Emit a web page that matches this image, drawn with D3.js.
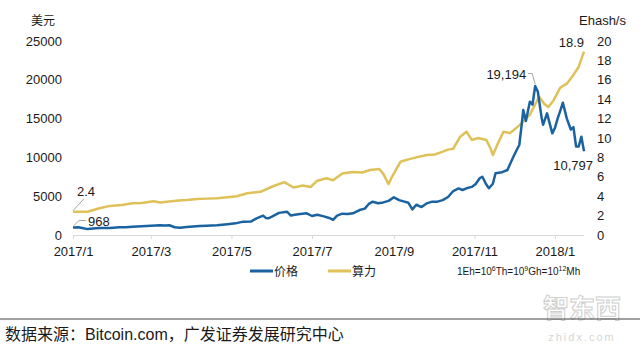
<!DOCTYPE html>
<html>
<head>
<meta charset="utf-8">
<script src="https://cdn.jsdelivr.net/npm/d3@7/dist/d3.min.js"></script>
<style>
  html, body { margin: 0; padding: 0; background: #ffffff; }
  svg { display: block; }
  text { font-family: "Liberation Sans", Arial, sans-serif; }
  .cjk { font-family: "Noto Sans CJK SC", sans-serif; }
</style>
</head>
<body>
<svg id="chart" width="640" height="350"></svg>
<script>
// Bitcoin price (USD) — left axis
const priceDates = [
  "2017-01-01","2017-01-05","2017-01-08","2017-01-12","2017-01-16","2017-01-21","2017-01-29",
  "2017-02-05","2017-02-10","2017-02-15","2017-02-22","2017-03-01","2017-03-08","2017-03-12",
  "2017-03-15","2017-03-19","2017-03-23","2017-03-28","2017-04-02","2017-04-07","2017-04-12",
  "2017-04-20","2017-04-28","2017-05-04","2017-05-10","2017-05-16","2017-05-20","2017-05-25",
  "2017-05-27","2017-05-29","2017-06-01","2017-06-06","2017-06-12","2017-06-15","2017-06-18",
  "2017-06-22","2017-06-27","2017-07-01","2017-07-05","2017-07-10","2017-07-14","2017-07-17",
  "2017-07-20","2017-07-24","2017-07-28","2017-08-01","2017-08-06","2017-08-10","2017-08-13",
  "2017-08-16","2017-08-20","2017-08-24","2017-08-28","2017-09-01","2017-09-05","2017-09-09",
  "2017-09-12","2017-09-15","2017-09-18","2017-09-22","2017-09-26","2017-09-30","2017-10-04",
  "2017-10-08","2017-10-12","2017-10-16","2017-10-20","2017-10-23","2017-10-26","2017-10-30",
  "2017-11-02","2017-11-05","2017-11-07","2017-11-10","2017-11-12","2017-11-15","2017-11-17",
  "2017-11-22","2017-11-26","2017-11-30","2017-12-03","2017-12-05","2017-12-07","2017-12-08",
  "2017-12-10","2017-12-13","2017-12-15","2017-12-17","2017-12-19","2017-12-22","2017-12-23",
  "2017-12-26","2017-12-30","2018-01-01","2018-01-03","2018-01-05","2018-01-07","2018-01-10",
  "2018-01-13","2018-01-15","2018-01-17","2018-01-19","2018-01-21","2018-01-23"
];
const priceValues = [
  968, 1010, 900, 760, 830, 890, 910,
  1010, 990, 1060, 1120, 1200, 1250, 1230,
  1260, 1000, 940, 1030, 1090, 1160, 1190,
  1250, 1380, 1500, 1720, 1750, 2150, 2500,
  2200, 2150, 2400, 2850, 3000, 2500, 2600,
  2700, 2800, 2450, 2620, 2400, 2200, 1950,
  2500, 2750, 2700, 2800, 3220, 3400, 4000,
  4290, 4100, 4200, 4400, 4860, 4500, 4300,
  4150, 3300, 3900, 3600, 4080, 4300, 4300,
  4500, 4900, 5670, 6000, 5800, 6020, 6200,
  6570, 7310, 7510, 6500, 6020, 6600, 7950,
  8100, 8380, 9880, 10950, 11600, 14500, 16100,
  14700, 17180, 16800, 19194, 18500, 15000, 14200,
  15680, 13100, 13800, 15000, 16000, 17050, 15000,
  13600, 13900, 11400, 11400, 12670, 10797
];

// Network hash rate (Ehash/s) — right axis
const hashDates = [
  "2017-01-01","2017-01-12","2017-01-21","2017-01-29","2017-02-07","2017-02-15","2017-02-22",
  "2017-03-03","2017-03-08","2017-03-15","2017-03-22","2017-03-28","2017-04-05","2017-04-12",
  "2017-04-20","2017-04-28","2017-05-05","2017-05-13","2017-05-23","2017-06-01","2017-06-10",
  "2017-06-17","2017-06-24","2017-06-30","2017-07-05","2017-07-12","2017-07-17","2017-07-24",
  "2017-08-01","2017-08-08","2017-08-14","2017-08-21","2017-08-24","2017-08-28","2017-08-31",
  "2017-09-06","2017-09-12","2017-09-18","2017-09-26","2017-10-02","2017-10-06","2017-10-12",
  "2017-10-16","2017-10-21","2017-10-26","2017-10-30","2017-11-04","2017-11-10","2017-11-13",
  "2017-11-15","2017-11-19","2017-11-23","2017-11-28","2017-12-05","2017-12-13","2017-12-20",
  "2017-12-24","2017-12-27","2017-12-31","2018-01-05","2018-01-10","2018-01-15","2018-01-19",
  "2018-01-23"
];
const hashValues = [
  2.4, 2.4, 2.75, 3.0, 3.1, 3.27, 3.3,
  3.47, 3.35, 3.45, 3.55, 3.6, 3.7, 3.75,
  3.8, 3.9, 4.0, 4.3, 4.45, 5.0, 5.45,
  4.9, 5.1, 4.95, 5.6, 5.85, 5.65, 6.35,
  6.5, 6.45, 6.7, 6.8, 6.3, 5.25, 6.1,
  7.55, 7.8, 8.0, 8.25, 8.3, 8.5, 8.8,
  8.9, 10.1, 10.65, 9.8, 10.0, 9.8, 9.0,
  8.25, 9.5, 10.65, 10.5, 11.3, 12.4, 14.25,
  13.5, 13.2, 13.9, 15.2, 15.6, 16.5, 17.35,
  18.9
];

const xTickDates = ["2017-01-01","2017-03-01","2017-05-01","2017-07-01","2017-09-01","2017-11-01","2018-01-01"];
const leftTicks = [0, 5000, 10000, 15000, 20000, 25000];
const rightTicks = [0, 2, 4, 6, 8, 10, 12, 14, 16, 18, 20];

const priceColor = "#1b62a0";
const hashColor = "#dfc158";
const textColor = "#1a1a1a";

const parse = d3.timeParse("%Y-%m-%d");
const price = priceDates.map((d, i) => ({ date: parse(d), value: priceValues[i] }));
const hash = hashDates.map((d, i) => ({ date: parse(d), value: hashValues[i] }));

const svg = d3.select("#chart");

const x = d3.scaleTime()
  .domain([parse("2017-01-01"), parse("2018-01-23")])
  .range([73, 584]);
const yL = d3.scaleLinear().domain([0, 25000]).range([235, 41]);
const yR = d3.scaleLinear().domain([0, 20]).range([235, 41]);

// x axis
const xAxis = svg.append("g")
  .attr("transform", "translate(0,235)")
  .call(d3.axisBottom(x)
    .tickValues(xTickDates.map(parse))
    .tickFormat(d3.timeFormat("%Y/%-m"))
    .tickSizeInner(4).tickSizeOuter(0).tickPadding(8));
xAxis.select(".domain").attr("stroke", "#d9d9d9").attr("d", "M73,0.5H584");
xAxis.selectAll(".tick line").attr("stroke", "#d9d9d9");
xAxis.selectAll(".tick text").attr("font-size", 13).attr("fill", textColor)
  .attr("font-family", "'Liberation Sans', Arial, sans-serif");

// left axis
const leftAxis = svg.append("g")
  .attr("transform", "translate(62,0)")
  .call(d3.axisLeft(yL).tickValues(leftTicks).tickFormat(d3.format("d")).tickSize(0).tickPadding(0));
leftAxis.select(".domain").remove();
leftAxis.selectAll(".tick text").attr("font-size", 13).attr("fill", textColor)
  .attr("font-family", "'Liberation Sans', Arial, sans-serif");

// right axis
const rightAxis = svg.append("g")
  .attr("transform", "translate(597,0)")
  .call(d3.axisRight(yR).tickValues(rightTicks).tickSize(0).tickPadding(0));
rightAxis.select(".domain").remove();
rightAxis.selectAll(".tick text").attr("font-size", 13).attr("fill", textColor)
  .attr("font-family", "'Liberation Sans', Arial, sans-serif");

// axis units
svg.append("text").attr("class", "cjk").attr("x", 31).attr("y", 25)
  .attr("font-size", 12).attr("fill", textColor).text("美元");
svg.append("text").attr("x", 579).attr("y", 25)
  .attr("font-size", 13).attr("fill", textColor).text("Ehash/s");

// series
const lineP = d3.line().x(d => x(d.date)).y(d => yL(d.value));
const lineH = d3.line().x(d => x(d.date)).y(d => yR(d.value));

svg.append("path").datum(hash)
  .attr("fill", "none").attr("stroke", hashColor).attr("stroke-width", 2.5)
  .attr("stroke-linejoin", "round").attr("d", lineH);
svg.append("path").datum(price)
  .attr("fill", "none").attr("stroke", priceColor).attr("stroke-width", 2.5)
  .attr("stroke-linejoin", "round").attr("d", lineP);

// value callouts
const leader = "#a6a6a6";
const hFirst = hash[0], hLast = hash[hash.length - 1];
const pFirst = price[0], pLast = price[price.length - 1];
const pMax = price.reduce((a, b) => (b.value > a.value ? b : a));

svg.append("path").attr("fill", "none").attr("stroke", leader).attr("stroke-width", 1)
  .attr("d", `M${x(hFirst.date)},${yR(hFirst.value) - 1}L${x(hFirst.date) + 11},${yR(hFirst.value) - 13}`);
svg.append("text").attr("x", x(hFirst.date) + 4).attr("y", 196).attr("font-size", 13)
  .attr("fill", textColor).text(hFirst.value.toFixed(1));

svg.append("path").attr("fill", "none").attr("stroke", leader).attr("stroke-width", 1)
  .attr("d", `M${x(pFirst.date) + 1},${yL(pFirst.value) - 2}L${x(pFirst.date) + 6},${yL(pFirst.value) - 7}H${x(pFirst.date) + 13}`);
svg.append("text").attr("x", x(pFirst.date) + 15).attr("y", 226).attr("font-size", 13)
  .attr("fill", textColor).text(d3.format("d")(pFirst.value));

svg.append("path").attr("fill", "none").attr("stroke", leader).attr("stroke-width", 1)
  .attr("d", `M${x(pMax.date) - 7},73.5H${x(pMax.date) - 3}L${x(pMax.date)},${yL(pMax.value) - 2}`);
svg.append("text").attr("x", x(pMax.date) - 9).attr("y", 79).attr("font-size", 13)
  .attr("fill", textColor).attr("text-anchor", "end").text(d3.format(",")(pMax.value));

svg.append("text").attr("x", 584).attr("y", 47).attr("font-size", 13)
  .attr("fill", textColor).attr("text-anchor", "end").text(hLast.value.toFixed(1));
svg.append("text").attr("x", 593).attr("y", 170).attr("font-size", 13)
  .attr("fill", textColor).attr("text-anchor", "end").text(d3.format(",")(pLast.value));

// legend
const legend = [
  { label: "价格", color: priceColor, x: 250 },
  { label: "算力", color: hashColor, x: 328 }
];
legend.forEach(l => {
  svg.append("line").attr("x1", l.x).attr("x2", l.x + 23).attr("y1", 271).attr("y2", 271)
    .attr("stroke", l.color).attr("stroke-width", 3);
  svg.append("text").attr("class", "cjk").attr("x", l.x + 24).attr("y", 275.5)
    .attr("font-size", 12).attr("fill", textColor).text(l.label);
});

// unit conversion note with superscript exponents
const note = svg.append("text").attr("x", 457).attr("y", 275).attr("font-size", 10).attr("fill", textColor);
const noteParts = [["1Eh=10", false], ["6", true], ["Th=10", false], ["9", true], ["Gh=10", false], ["12", true], ["Mh", false]];
let raised = false;
noteParts.forEach(([t, sup]) => {
  let dy = 0;
  if (sup && !raised) { dy = -4; raised = true; }
  else if (!sup && raised) { dy = 4; raised = false; }
  note.append("tspan").attr("font-size", sup ? 7 : 10).attr("dy", dy).text(t);
});

// watermark
svg.append("text").attr("class", "cjk").attr("x", 582).attr("y", 318)
  .attr("text-anchor", "middle").attr("font-size", 26).attr("font-weight", "bold")
  .style("fill", "#ffffff").style("stroke", "#cfcfcf").style("stroke-width", "1")
  .text("智东西");
svg.append("text").attr("x", 582).attr("y", 341).attr("text-anchor", "middle")
  .attr("font-size", 11).style("fill", "#d6d6d6").attr("letter-spacing", 2).text("zhidx.com");

// source footer
svg.append("line").attr("x1", 0).attr("x2", 640).attr("y1", 319).attr("y2", 319)
  .attr("stroke", "#404040").attr("stroke-width", 1);
const src = svg.append("text").attr("x", 5).attr("y", 340).attr("font-size", 16).attr("fill", textColor);
src.append("tspan").attr("class", "cjk").text("数据来源：");
src.append("tspan").text("Bitcoin.com");
src.append("tspan").attr("class", "cjk").text("，广发证券发展研究中心");
</script>
</body>
</html>
